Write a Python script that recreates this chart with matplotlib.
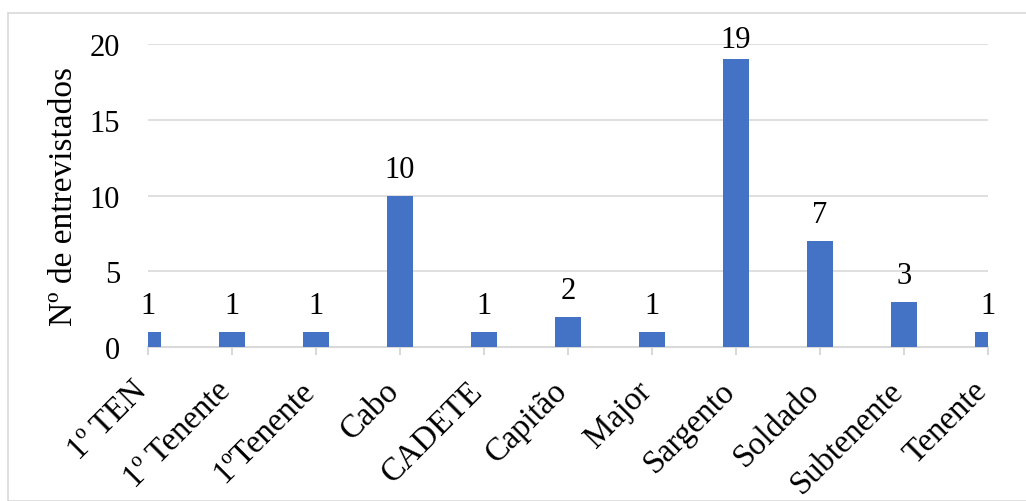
import matplotlib.pyplot as plt
from matplotlib.patches import Rectangle

postos = ["1º TEN", "1º Tenente", "1ºTenente", "Cabo", "CADETE", "Capitão",
          "Major", "Sargento", "Soldado", "Subtenente", "Tenente"]
entrevistados = [1, 1, 1, 10, 1, 2, 1, 19, 7, 3, 1]

plt.rcParams['font.family'] = ['Liberation Serif', 'DejaVu Serif']

fig = plt.figure(figsize=(10.26, 5.02), dpi=100)
ax = fig.add_axes([148 / 1026, 1 - 348 / 502, 840 / 1026, 303 / 502])

# moldura cinza clara do grafico
fig.patches.append(Rectangle((8 / 1026, 0), 1.2, 1 - 14 / 502, transform=fig.transFigure,
                             fill=False, edgecolor='#d9d9d9', linewidth=1.2))

x = list(range(len(postos)))
ax.bar(x, entrevistados, width=0.31, color='#4472c4', zorder=3)
topo = max(entrevistados)
for xi, v in zip(x, entrevistados):
    # o rotulo do maior valor fica mais perto da barra para caber no grafico
    dy = 9 if v == topo else 13.5
    ax.annotate(str(v), (xi, v), xytext=(0, dy), textcoords='offset points',
                ha='center', va='baseline', fontsize=22, clip_on=False)

ax.set_xlim(0, len(postos) - 1)
ax.set_ylim(0, 20)
ax.set_yticks([0, 5, 10, 15, 20])
ax.set_xticks(x)
ax.set_xticklabels(postos, rotation=45, ha='right', va='baseline', rotation_mode='anchor')
ax.tick_params(axis='x', length=6, width=1.5, color='#d9d9d9', pad=26, labelsize=23.5)
ax.tick_params(axis='y', length=0, pad=20, labelsize=22)
ax.grid(axis='y', color='#d9d9d9', linewidth=1.2, zorder=0)
for s in ['top', 'right', 'left']:
    ax.spines[s].set_visible(False)
ax.spines['bottom'].set_color('#d9d9d9')
ax.spines['bottom'].set_linewidth(1.5)
ax.set_ylabel('Nº de entrevistados', fontsize=24, labelpad=8)

fig.savefig('out.png', dpi=100)
